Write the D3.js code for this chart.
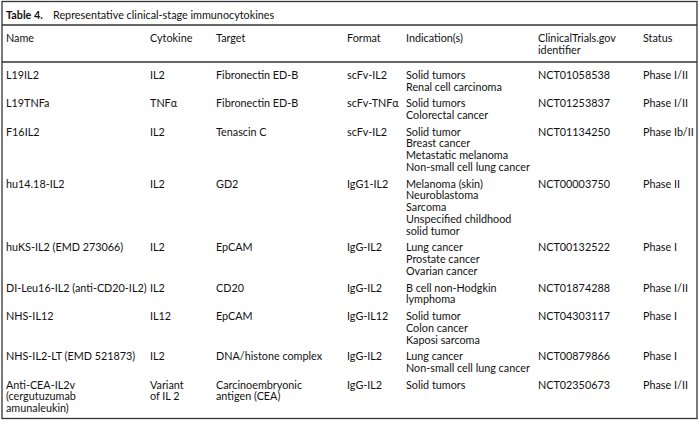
<!DOCTYPE html>
<html>
<head>
<meta charset="utf-8">
<script src="https://d3js.org/d3.v7.min.js"></script>
<style>
  body { margin: 0; background: #fff; }
  svg text { font-family: Lato, "Open Sans", sans-serif; fill: #111; }
</style>
</head>
<body>
<div id="table"></div>
<script>
// Table content
const title = "Representative clinical-stage immunocytokines";
const tableLabel = "Table 4.";
const columns = ["name", "cytokine", "target", "format", "indication", "identifier", "status"];
const headers = ["Name", "Cytokine", "Target", "Format", "Indication(s)", "ClinicalTrials.gov\nidentifier", "Status"];

const names = ["L19IL2", "L19TNFa", "F16IL2", "hu14.18-IL2", "huKS-IL2 (EMD 273066)",
  "DI-Leu16-IL2 (anti-CD20-IL2)", "NHS-IL12", "NHS-IL2-LT (EMD 521873)",
  "Anti-CEA-IL2v\n(cergutuzumab\namunaleukin)"];
const cytokines = ["IL2", "TNFα", "IL2", "IL2", "IL2", "IL2", "IL12", "IL2", "Variant\nof IL 2"];
const targets = ["Fibronectin ED-B", "Fibronectin ED-B", "Tenascin C", "GD2", "EpCAM", "CD20",
  "EpCAM", "DNA/histone complex", "Carcinoembryonic\nantigen (CEA)"];
const formats = ["scFv-IL2", "scFv-TNFα", "scFv-IL2", "IgG1-IL2", "IgG-IL2", "IgG-IL2",
  "IgG-IL12", "IgG-IL2", "IgG-IL2"];
const indications = [
  "Solid tumors\nRenal cell carcinoma",
  "Solid tumors\nColorectal cancer",
  "Solid tumor\nBreast cancer\nMetastatic melanoma\nNon-small cell lung cancer",
  "Melanoma (skin)\nNeuroblastoma\nSarcoma\nUnspecified childhood\nsolid tumor",
  "Lung cancer\nProstate cancer\nOvarian cancer",
  "B cell non-Hodgkin\nlymphoma",
  "Solid tumor\nColon cancer\nKaposi sarcoma",
  "Lung cancer\nNon-small cell lung cancer",
  "Solid tumors"];
const identifiers = ["NCT01058538", "NCT01253837", "NCT01134250", "NCT00003750", "NCT00132522",
  "NCT01874288", "NCT04303117", "NCT00879866", "NCT02350673"];
const statuses = ["Phase I/II", "Phase I/II", "Phase Ib/II", "Phase II", "Phase I",
  "Phase I/II", "Phase I", "Phase I", "Phase I/II"];

const width = 700, height = 423;
const fontSize = 10.8;
const lineH = 11.8, rowPad = 4.8;

const svg = d3.select("#table").append("svg")
  .attr("width", width).attr("height", height);

// column positions
const x = d3.scaleOrdinal()
  .domain(columns)
  .range([6, 150, 216, 347, 406, 538, 643]);

const rows = names.map((n, i) => ({
  name: n, cytokine: cytokines[i], target: targets[i], format: formats[i],
  indication: indications[i], identifier: identifiers[i], status: statuses[i]
}));
rows.forEach(r => {
  r.lines = d3.max(columns, c => r[c].split("\n").length);
});

// vertical position in "line units" -> pixels
const y = d3.scaleLinear().domain([0, 1]).range([75, 75 + lineH]);
const starts = [0];
rows.forEach((r, i) => { if (i > 0) starts.push(starts[i - 1] + rows[i - 1].lines + rowPad / lineH); });

// frame and rules
const frame = svg.append("g").attr("stroke", "#333").attr("fill", "none");
frame.append("rect")
  .attr("x", 2).attr("y", 1.5).attr("width", 695).attr("height", 417)
  .attr("stroke-width", 1.3);
frame.append("line").attr("x1", 2).attr("x2", 697).attr("y1", 25).attr("y2", 25).attr("stroke-width", 1.5);
frame.append("line").attr("x1", 2).attr("x2", 697).attr("y1", 62).attr("y2", 62).attr("stroke-width", 1.5);

// title
svg.append("text")
  .attr("x", 6).attr("y", 15).attr("dy", "0.35em")
  .attr("font-size", fontSize).attr("font-weight", "bold")
  .text(tableLabel);
svg.append("text")
  .attr("x", 53).attr("y", 15).attr("dy", "0.35em")
  .attr("font-size", fontSize)
  .text(title);

// header
const hy = d3.scaleLinear().domain([0, 1]).range([38.5, 38.5 + lineH]);
columns.forEach((c, j) => {
  const t = svg.append("text")
    .attr("font-size", fontSize);
  t.selectAll("tspan")
    .data(headers[j].split("\n"))
    .join("tspan")
    .attr("x", x(c))
    .attr("y", (d, k) => hy(k))
    .attr("dy", "0.35em")
    .text(d => d);
});

// body
const body = svg.append("g");
rows.forEach((r, i) => {
  columns.forEach(c => {
    const t = body.append("text").attr("font-size", fontSize);
    t.selectAll("tspan")
      .data(r[c].split("\n"))
      .join("tspan")
      .attr("x", x(c))
      .attr("y", (d, k) => y(starts[i] + k))
      .attr("dy", "0.35em")
      .text(d => d);
  });
});
</script>
</body>
</html>
